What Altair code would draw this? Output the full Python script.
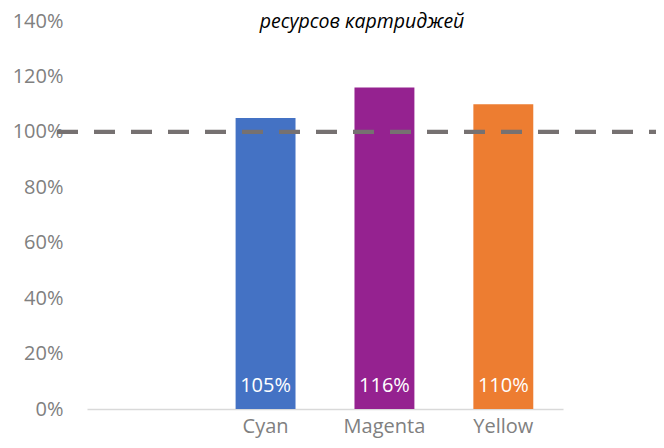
import altair as alt
import pandas as pd

# ---- data ----
categories = ["Cyan", "Magenta", "Yellow"]
values = [1.05, 1.16, 1.10]
bar_colors = ["#4472C4", "#952290", "#ED7D31"]
x_domain = [" ", "Cyan", "Magenta", "Yellow"]
y_ticks = [0, 0.2, 0.4, 0.6, 0.8, 1.0, 1.2, 1.4]
target = [1.0]
title_text = ["ресурсов картриджей"]

FONT = "Open Sans"
GRAY = "#808080"

df = pd.DataFrame({"cat": categories, "value": values})
df_target = pd.DataFrame({"target": target})
df_title = pd.DataFrame({"t": title_text})

x_enc = alt.X(
    "cat:N",
    sort=x_domain,
    scale=alt.Scale(domain=x_domain, paddingInner=0.496, paddingOuter=0.25),
    axis=alt.Axis(
        title=None, labelAngle=0, ticks=False, tickSize=0,
        domainColor="#d9d9d9", domainWidth=1.5,
        labelColor=GRAY, labelFont=FONT, labelFontSize=20,
        labelPadding=7, labelBaseline="top",
    ),
)

y_enc = alt.Y(
    "value:Q",
    scale=alt.Scale(domain=[0, 1.4], nice=False),
    axis=alt.Axis(
        title=None, values=y_ticks, format=".0%", grid=False,
        domain=False, ticks=False, tickSize=0,
        labelColor=GRAY, labelFont=FONT, labelFontSize=20, labelPadding=24,
    ),
)

bars = alt.Chart(df).mark_bar().encode(
    x=x_enc,
    y=y_enc,
    color=alt.Color("cat:N", scale=alt.Scale(domain=categories, range=bar_colors), legend=None),
)

labels = alt.Chart(df).mark_text(
    color="white", font=FONT, fontSize=20, baseline="alphabetic", dy=-17
).encode(
    x=alt.X("cat:N", sort=x_domain),
    y=alt.datum(0),
    text=alt.Text("value:Q", format=".0%"),
)

rule = alt.Chart(df_target).mark_rule(
    color="#767171", strokeWidth=4.3, strokeDash=[21, 16]
).encode(
    y="target:Q",
    x=alt.value(-30),
    x2=alt.value(600),
)

title = alt.Chart(df_title).mark_text(
    font=FONT, fontSize=19.5, fontStyle="italic", color="#000000",
    baseline="alphabetic", align="center",
).encode(
    x=alt.value(275),
    y=alt.value(7),
    text="t:N",
)

chart = alt.layer(bars, labels, rule, title).properties(
    width=476,
    height=388,
    autosize=alt.AutoSizeParams(type="none"),
    padding={"left": 79, "top": 13, "right": 93, "bottom": 31},
).configure_view(stroke=None)

chart.save("out.html", embed_options={"renderer": "svg", "actions": False})
